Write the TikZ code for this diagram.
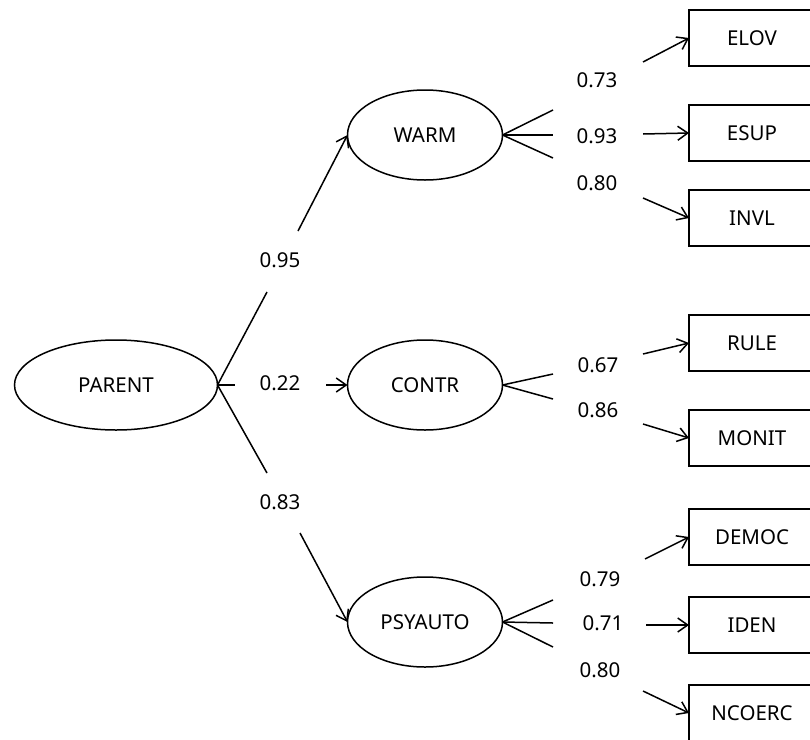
\documentclass[tikz,border=0pt]{standalone}
\usepackage{fontspec}
\setmainfont{Noto Sans}
\usetikzlibrary{shapes.geometric,arrows.meta}
\begin{document}
\begin{tikzpicture}[x=1pt,y=-1pt,
  every node/.style={font=\fontsize{20.5}{24}\selectfont},
  lat/.style={draw,ellipse,line width=1.5pt,minimum width=155pt,minimum height=90pt,inner sep=0pt,outer sep=0pt},
  obs/.style={draw,rectangle,line width=1.5pt,minimum width=126pt,minimum height=56pt,inner sep=0pt,outer sep=0pt},
  lnk/.style={line width=1.5pt},
  arr/.style={lnk,-{Straight Barb[length=10pt,width=14pt,line width=1.5pt]}},
  val/.style={inner sep=0pt}
]
\useasboundingbox (0,0) rectangle (810,739);
\clip (0,0) rectangle (810,739);

% latent variables
\node[lat,minimum width=203pt] (PARENT) at (116,385) {PARENT};
\node[lat] (WARM) at (425,135) {WARM};
\node[lat] (CONTR) at (425,385) {CONTR};
\node[lat] (PSYAUTO) at (425,622) {PSYAUTO};

% observed variables
\node[obs] (ELOV) at (752,38) {ELOV};
\node[obs] (ESUP) at (752,133) {ESUP};
\node[obs] (INVL) at (752,218) {INVL};
\node[obs] (RULE) at (752,343) {RULE};
\node[obs] (MONIT) at (752,438) {MONIT};
\node[obs] (DEMOC) at (752,537) {DEMOC};
\node[obs] (IDEN) at (752,625) {IDEN};
\node[obs] (NCOERC) at (752,713) {NCOERC};

% coefficient labels
\node[val] (v95) at (280,260) {0.95};
\node[val] (v22) at (280,383) {0.22};
\node[val] (v83) at (280,502) {0.83};
\node[val] (v73) at (597,80) {0.73};
\node[val] (v93) at (597,136) {0.93};
\node[val] (v80a) at (597,183) {0.80};
\node[val] (v67) at (598,365) {0.67};
\node[val] (v86) at (598,410) {0.86};
\node[val] (v79) at (600,579) {0.79};
\node[val] (v71) at (603,623) {0.71};
\node[val] (v80b) at (600,670) {0.80};

% free ends of the broken connectors
\coordinate (pw1) at (267,292); \coordinate (pw2) at (298,231);
\coordinate (pc1) at (235,385); \coordinate (pc2) at (326,385);
\coordinate (pp1) at (267,473); \coordinate (pp2) at (300,533);

\coordinate (w1) at (553,110); \coordinate (w2) at (553,135); \coordinate (w3) at (553,158);
\coordinate (e1) at (643,62);  \coordinate (e2) at (643,134); \coordinate (e3) at (643,198);

\coordinate (c1) at (553,374); \coordinate (c2) at (553,399);
\coordinate (r1) at (643,354); \coordinate (r2) at (643,424);

\coordinate (s1) at (553,600); \coordinate (s2) at (553,623); \coordinate (s3) at (553,647);
\coordinate (d1) at (645,559); \coordinate (d2) at (646,625); \coordinate (d3) at (643,691);

% PARENT -> latent
\draw[lnk] (PARENT.east) -- (pw1);
\draw[arr] (pw2) -- (WARM.west);
\draw[lnk] (PARENT.east) -- (pc1);
\draw[arr] (pc2) -- (CONTR.west);
\draw[lnk] (PARENT.east) -- (pp1);
\draw[arr] (pp2) -- (PSYAUTO.west);

% WARM -> indicators
\draw[lnk] (WARM.east) -- (w1);
\draw[lnk] (WARM.east) -- (w2);
\draw[lnk] (WARM.east) -- (w3);
\draw[arr] (e1) -- (ELOV.west);
\draw[arr] (e2) -- (ESUP.west);
\draw[arr] (e3) -- (INVL.west);

% CONTR -> indicators
\draw[lnk] (CONTR.east) -- (c1);
\draw[lnk] (CONTR.east) -- (c2);
\draw[arr] (r1) -- (RULE.west);
\draw[arr] (r2) -- (MONIT.west);

% PSYAUTO -> indicators
\draw[lnk] (PSYAUTO.east) -- (s1);
\draw[lnk] (PSYAUTO.east) -- (s2);
\draw[lnk] (PSYAUTO.east) -- (s3);
\draw[arr] (d1) -- (DEMOC.west);
\draw[arr] (d2) -- (IDEN.west);
\draw[arr] (d3) -- (NCOERC.west);
\end{tikzpicture}
\end{document}
